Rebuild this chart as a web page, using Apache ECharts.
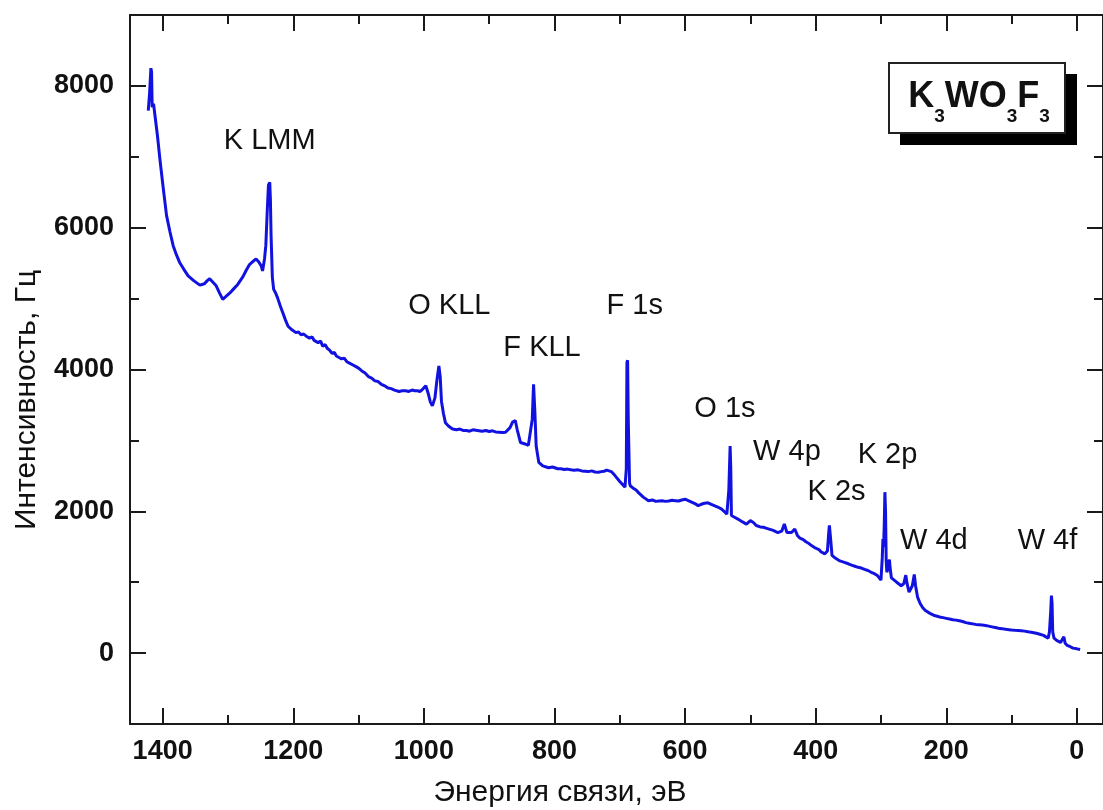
<!DOCTYPE html>
<html>
<head>
<meta charset="utf-8" />
<title>K3WO3F3 XPS</title>
<style>
  html, body { margin: 0; height: 100%; background: #fff; }
  #container { width: 1103px; height: 810px; }
</style>
</head>
<body>
<div id="container"></div>
<script src="https://cdn.jsdelivr.net/npm/echarts@6/dist/echarts.min.js"></script>
<script>
// binding energy, eV (high -> low)
var energy = [
  1422, 1420, 1418, 1417, 1416, 1414, 1412, 1408, 1404, 1399, 1394, 1389, 1384, 1379, 1374, 1368,
  1361, 1352, 1343, 1336, 1332, 1328, 1323, 1318, 1313, 1308, 1303, 1297, 1292, 1285, 1277, 1272,
  1267, 1262, 1257, 1253, 1249, 1247, 1244, 1242, 1240, 1238, 1236, 1235, 1234, 1232, 1230, 1227,
  1224, 1220, 1216, 1212, 1208, 1202, 1196, 1192, 1188, 1184, 1180, 1175, 1171, 1168, 1162, 1158,
  1155, 1151, 1148, 1144, 1141, 1137, 1134, 1130, 1126, 1122, 1118, 1114, 1110, 1104, 1100, 1095,
  1090, 1085, 1080, 1075, 1070, 1065, 1060, 1055, 1050, 1045, 1038, 1033, 1028, 1023, 1018, 1014,
  1010, 1006, 1002, 997, 993, 990, 987, 983, 980, 977, 975, 973, 970, 967, 962, 956,
  950, 945, 940, 935, 930, 925, 918, 911, 905, 900, 895, 890, 885, 880, 875, 868,
  864, 860, 857, 852, 845, 840, 837, 834, 832, 830, 828, 824, 818, 809, 803, 800,
  795, 790, 785, 780, 775, 770, 764, 758, 753, 748, 743, 738, 733, 728, 724, 720,
  717, 713, 707, 700, 695, 692, 690, 689, 688, 687, 685, 684, 680, 675, 671, 664,
  656, 650, 645, 640, 635, 630, 625, 620, 615, 610, 605, 600, 595, 590, 585, 580,
  572, 565, 558, 550, 544, 539, 536, 533, 531, 530, 529, 525, 519, 512, 506, 500,
  498, 495, 491, 485, 480, 475, 470, 465, 458, 452, 448, 446, 444, 442, 437, 432,
  428, 424, 419, 415, 411, 407, 400, 395, 392, 386, 382, 380, 379, 377, 375, 370,
  363, 356, 350, 345, 340, 335, 330, 325, 320, 315, 310, 305, 300, 298, 297, 296,
  295, 294, 293, 292, 291, 289, 287, 286, 284, 282, 276, 269, 265, 262, 260, 257,
  254, 252, 249, 247, 244, 240, 236, 232, 225, 218, 210, 205, 200, 195, 190, 185,
  180, 175, 170, 165, 162, 155, 150, 145, 140, 135, 130, 125, 120, 115, 109, 104,
  100, 95, 90, 85, 80, 75, 70, 66, 62, 58, 55, 51, 48, 44, 42, 40,
  39, 38, 37, 35, 31, 28, 25, 22, 20, 18, 15, 10, 6, 0, -5
];
// intensity, Hz
var intensity = [
  7650, 7900, 8250, 8200, 7700, 7750, 7600, 7300, 6950, 6550, 6170, 5950, 5750, 5620, 5510, 5420,
  5320, 5250, 5190, 5210, 5250, 5280, 5230, 5180, 5080, 4990, 5030, 5080, 5130, 5200, 5310, 5400,
  5480, 5520, 5560, 5520, 5460, 5390, 5560, 5750, 6200, 6600, 6640, 6400, 5900, 5300, 5130, 5080,
  5010, 4900, 4800, 4700, 4610, 4560, 4520, 4530, 4490, 4500, 4470, 4440, 4460, 4410, 4380, 4400,
  4330, 4350, 4300, 4270, 4230, 4240, 4190, 4170, 4150, 4160, 4110, 4090, 4070, 4040, 4020, 3980,
  3950, 3900, 3880, 3840, 3830, 3790, 3770, 3740, 3730, 3710, 3690, 3700, 3700, 3690, 3710, 3700,
  3700, 3690, 3720, 3770, 3650, 3540, 3490, 3600, 3850, 4050, 3900, 3550, 3380, 3250, 3200, 3160,
  3150, 3160, 3140, 3140, 3130, 3150, 3140, 3130, 3140, 3125, 3135, 3120, 3115, 3110, 3115, 3180,
  3260, 3280, 3150, 2970, 2950, 2930, 2925, 3300, 3790, 3400, 2920, 2690, 2640, 2615, 2625, 2610,
  2600, 2600, 2590, 2595, 2585, 2580, 2585, 2570, 2565, 2560, 2570, 2555, 2550, 2560, 2565, 2580,
  2600, 2560, 2500, 2420, 2370, 2340, 2600, 4100, 4130, 3300, 2400, 2360, 2330, 2300, 2260, 2200,
  2150, 2160, 2140, 2145, 2150, 2140, 2145, 2155, 2150, 2145, 2160, 2170, 2150, 2130, 2110, 2080,
  2110, 2120, 2090, 2060, 2030, 1990, 1960, 2300, 2920, 2600, 1940, 1920, 1890, 1850, 1820, 1870,
  1890, 1840, 1800, 1780, 1775, 1760, 1745, 1730, 1700, 1720, 1820, 1800, 1700, 1680, 1700, 1750,
  1660, 1620, 1600, 1570, 1550, 1520, 1480, 1460, 1430, 1400, 1440, 1700, 1800, 1600, 1380, 1340,
  1300, 1280, 1260, 1240, 1225, 1210, 1200, 1180, 1165, 1140, 1120, 1090, 1030, 1350, 1610, 1500,
  1800, 2270, 2000, 1300, 1140, 1200, 1320, 1200, 1060, 1040, 1000, 950, 980, 1100, 980, 860,
  850, 950, 1110, 950, 790, 700, 640, 600, 560, 530, 510, 500, 490, 480, 470, 465,
  455, 445, 430, 420, 410, 405, 400, 395, 390, 380, 370, 360, 350, 345, 335, 330,
  325, 322, 320, 315, 310, 300, 295, 288, 280, 270, 260, 250, 240, 210, 300, 600,
  810, 700, 300, 210, 180, 160, 150, 170, 230, 140, 110, 90, 70, 60, 50
];

// peak annotations: text centre in data units
var peakNames = ['K LMM', 'O KLL', 'F KLL', 'F 1s', 'O 1s', 'W 4p', 'K 2p', 'K 2s', 'W 4d', 'W 4f'];
var peakX = [1236, 961, 819, 677, 539, 444, 290, 368, 219, 45];
var peakY = [7220, 4890, 4310, 4900, 3440, 2830, 2800, 2270, 1580, 1580];

var xMajor = [0, 200, 400, 600, 800, 1000, 1200, 1400];
var xMinor = [100, 300, 500, 700, 900, 1100, 1300];
var yMajor = [0, 2000, 4000, 6000, 8000];
var yMinor = [1000, 3000, 5000, 7000];

var spectrum = energy.map(function (e, i) { return [e, intensity[i]]; });
var peaks = peakNames.map(function (n, i) { return [peakX[i], peakY[i], n]; });

var axisColor = '#1a1a1a';
var font = '"Liberation Sans", Arial, sans-serif';

function plain(v) { return String(v); }

function xAx(pos, ticks, len, showLine, showLabel) {
  return {
    type: 'value', position: pos, inverse: true, min: -40, max: 1450,
    axisLine: { show: showLine, onZero: false, lineStyle: { color: axisColor, width: 2 } },
    axisTick: { show: true, inside: true, length: len, customValues: ticks,
                lineStyle: { color: axisColor, width: 2 } },
    axisLabel: { show: showLabel, customValues: ticks, margin: 14, color: '#111', formatter: plain,
                 fontSize: 27, fontWeight: 'bold', fontFamily: font },
    splitLine: { show: false }
  };
}
function yAx(pos, ticks, len, showLine, showLabel) {
  return {
    type: 'value', position: pos, min: -1000, max: 9000,
    axisLine: { show: showLine, onZero: false, lineStyle: { color: axisColor, width: 2 } },
    axisTick: { show: true, inside: true, length: len, customValues: ticks,
                lineStyle: { color: axisColor, width: 2 } },
    axisLabel: { show: showLabel, customValues: ticks, margin: 16, color: '#111', formatter: plain,
                 fontSize: 27, fontWeight: 'bold', fontFamily: font },
    splitLine: { show: false }
  };
}

var dom = document.getElementById('container');
var myChart = echarts.init(dom);
var option = {
  animation: false,
  backgroundColor: '#fff',
  grid: { left: 130, right: -3, top: 15, bottom: 86 },
  xAxis: [
    xAx('bottom', xMajor, 16, true, true),
    xAx('bottom', xMinor, 9, false, false),
    xAx('top', xMajor, 16, true, false),
    xAx('top', xMinor, 9, false, false)
  ],
  yAxis: [
    yAx('left', yMajor, 16, true, true),
    yAx('left', yMinor, 9, false, false),
    yAx('right', yMajor, 16, true, false),
    yAx('right', yMinor, 9, false, false)
  ],
  graphic: [
    { type: 'text', x: 560, y: 793,
      style: { text: 'Энергия связи, эВ', fill: '#111', font: '30px ' + font,
               textAlign: 'center', textVerticalAlign: 'middle' } },
    { type: 'text', x: 27, y: 400, rotation: Math.PI / 2,
      style: { text: 'Интенсивность, Гц', fill: '#111', font: '30px ' + font,
               textAlign: 'center', textVerticalAlign: 'middle' } },
    { type: 'rect', shape: { x: 900, y: 74, width: 177, height: 71 }, style: { fill: '#000' } },
    { type: 'rect', shape: { x: 889, y: 63, width: 176, height: 70 },
      style: { fill: '#fff', stroke: '#222', lineWidth: 2 } },
    { type: 'text', x: 979, y: 97,
      style: {
        text: '{b|K}{s|3}{b|WO}{s|3}{b|F}{s|3}',
        textAlign: 'center', textVerticalAlign: 'middle',
        rich: {
          b: { fontSize: 36, fontWeight: 'bold', fontFamily: font, lineHeight: 58, fill: '#111' },
          s: { fontSize: 19, fontWeight: 'bold', fontFamily: font, lineHeight: 19,
               verticalAlign: 'bottom', fill: '#111' }
        }
      } }
  ],
  series: [
    {
      type: 'line', xAxisIndex: 0, yAxisIndex: 0, data: spectrum,
      showSymbol: false, symbol: 'none',
      lineStyle: { color: '#1212e0', width: 3 }
    },
    {
      type: 'scatter', xAxisIndex: 0, yAxisIndex: 0, data: peaks,
      symbolSize: 1, itemStyle: { color: 'rgba(0,0,0,0)', opacity: 1 },
      label: { show: true, position: 'inside', color: '#111', fontSize: 29, fontFamily: font,
               textBorderWidth: 0, opacity: 1,
               formatter: function (p) { return p.value[2]; } }
    }
  ]
};
myChart.setOption(option);
</script>
</body>
</html>
